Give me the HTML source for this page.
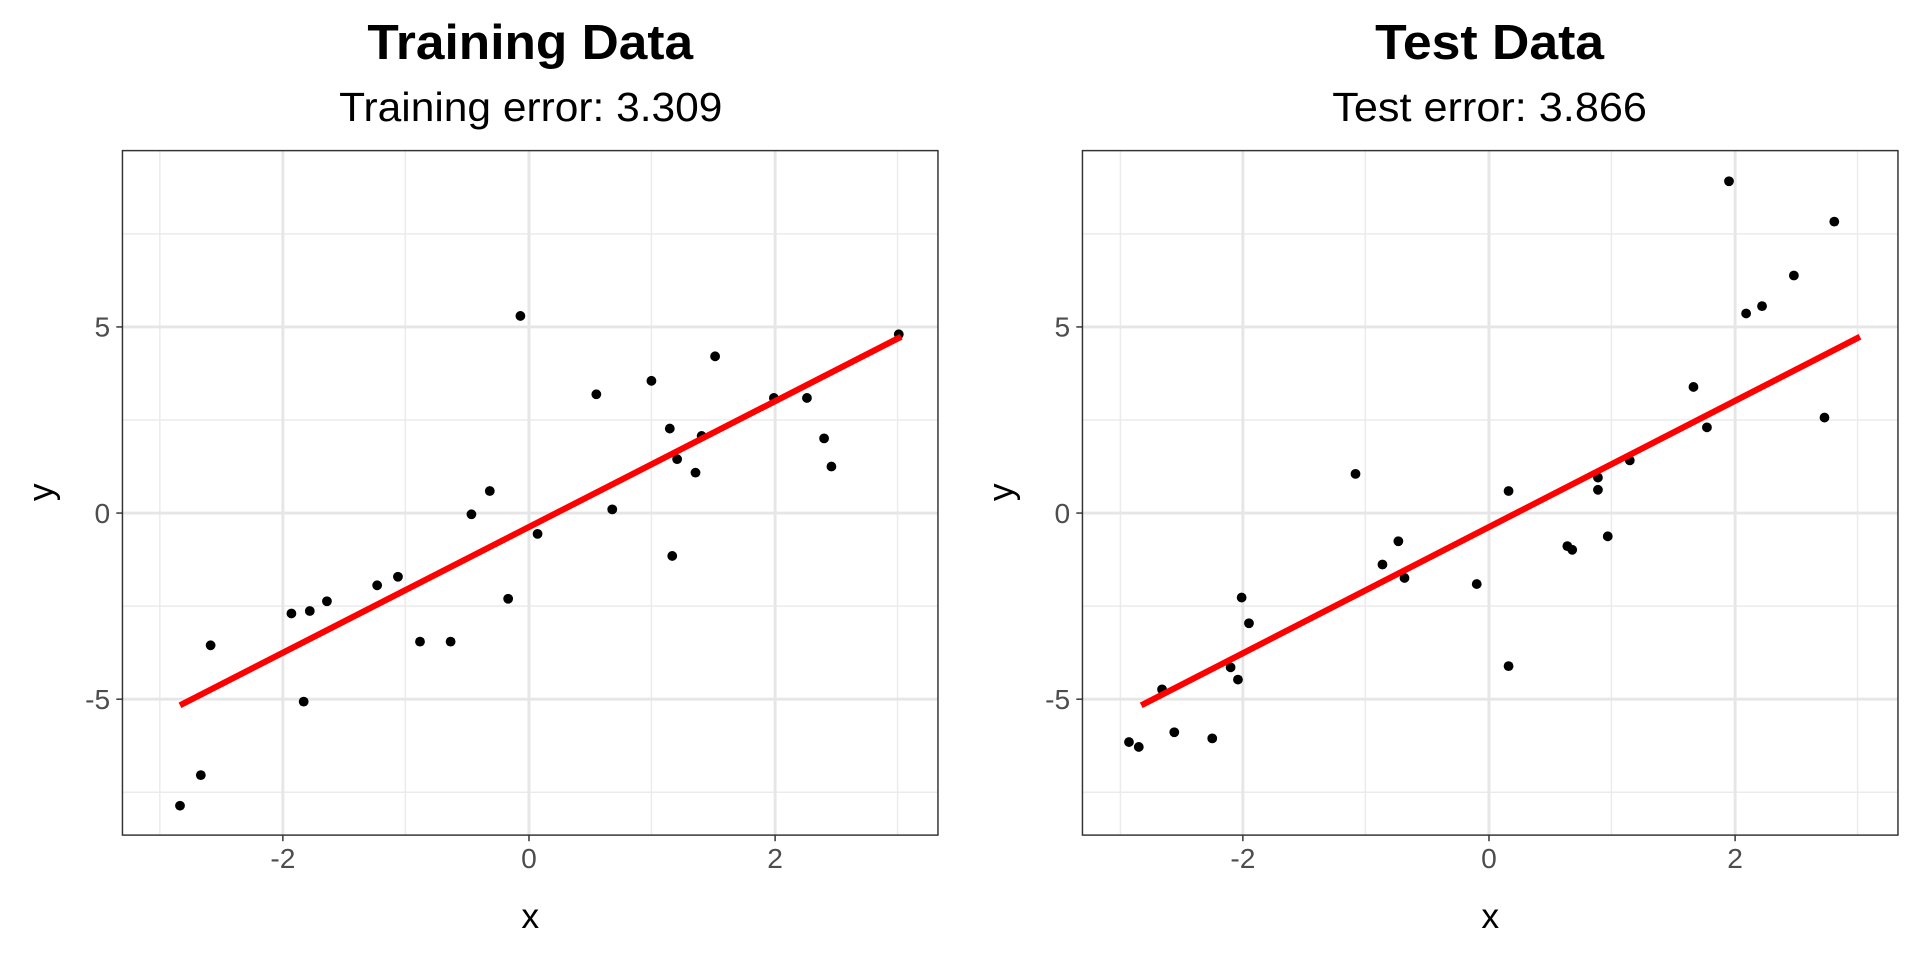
<!DOCTYPE html>
<html><head><style>html,body{margin:0;padding:0;background:#fff}svg{display:block}</style></head><body>
<svg width="1920" height="960" viewBox="0 0 1568 784" xmlns="http://www.w3.org/2000/svg" font-family="Liberation Sans, Arial, sans-serif">
<!-- Panel 1 -->
<g>
<g stroke="#ebebeb" stroke-width="1.2">
<line x1="130.5" y1="123" x2="130.5" y2="682"/><line x1="331" y1="123" x2="331" y2="682"/><line x1="532" y1="123" x2="532" y2="682"/><line x1="733" y1="123" x2="733" y2="682"/>
<line x1="100" y1="191" x2="766" y2="191"/><line x1="100" y1="343" x2="766" y2="343"/><line x1="100" y1="495" x2="766" y2="495"/><line x1="100" y1="647" x2="766" y2="647"/>
</g>
<g stroke="#e6e6e6" stroke-width="2.4">
<line x1="231" y1="123" x2="231" y2="682"/><line x1="432" y1="123" x2="432" y2="682"/><line x1="633" y1="123" x2="633" y2="682"/>
<line x1="100" y1="267" x2="766" y2="267"/><line x1="100" y1="419" x2="766" y2="419"/><line x1="100" y1="571" x2="766" y2="571"/>
</g>
<g fill="#000">
<circle cx="147" cy="658" r="4"/><circle cx="164" cy="633" r="4"/><circle cx="172" cy="527" r="4"/><circle cx="238" cy="501" r="4"/><circle cx="253" cy="499" r="4"/><circle cx="267" cy="491" r="4"/><circle cx="248" cy="573" r="4"/><circle cx="308" cy="478" r="4"/><circle cx="325" cy="471" r="4"/><circle cx="343" cy="524" r="4"/><circle cx="368" cy="524" r="4"/><circle cx="385" cy="420" r="4"/><circle cx="400" cy="401" r="4"/><circle cx="415" cy="489" r="4"/><circle cx="425" cy="258" r="4"/><circle cx="439" cy="436" r="4"/><circle cx="487" cy="322" r="4"/><circle cx="500" cy="416" r="4"/><circle cx="532" cy="311" r="4"/><circle cx="547" cy="350" r="4"/><circle cx="549" cy="454" r="4"/><circle cx="553" cy="375" r="4"/><circle cx="568" cy="386" r="4"/><circle cx="573" cy="356" r="4"/><circle cx="584" cy="291" r="4"/><circle cx="632" cy="325" r="4"/><circle cx="659" cy="325" r="4"/><circle cx="673" cy="358" r="4"/><circle cx="679" cy="381" r="4"/><circle cx="734" cy="273" r="4"/>
</g>
<line x1="147" y1="576" x2="736" y2="275" stroke="#ff0000" stroke-width="5"/>
<rect x="100" y="123" width="666" height="559" fill="none" stroke="#333" stroke-width="1.2"/>
<g stroke="#333" stroke-width="1.2"><line x1="231" y1="682" x2="231" y2="687"/><line x1="432" y1="682" x2="432" y2="687"/><line x1="633" y1="682" x2="633" y2="687"/><line x1="95" y1="267" x2="100" y2="267"/><line x1="95" y1="419" x2="100" y2="419"/><line x1="95" y1="571" x2="100" y2="571"/></g>
<g fill="#4d4d4d" font-size="23"><text x="231" y="709" text-anchor="middle">-2</text><text x="432" y="709" text-anchor="middle">0</text><text x="633" y="709" text-anchor="middle">2</text>
<text x="90" y="427" text-anchor="end">0</text><text x="90" y="275" text-anchor="end">5</text><text x="90" y="579" text-anchor="end">-5</text></g>
<text x="433" y="758" font-size="29" text-anchor="middle">x</text>
<text x="43" y="402" font-size="29" text-anchor="middle" transform="rotate(-90 43 402)">y</text>
<text x="300" y="48" font-size="40" font-weight="bold" textLength="266" lengthAdjust="spacingAndGlyphs">Training Data</text>
<text x="277" y="99" font-size="33" textLength="313" lengthAdjust="spacingAndGlyphs">Training error: 3.309</text>
</g>
<!-- Panel 2 -->
<g>
<g stroke="#ebebeb" stroke-width="1.2">
<line x1="915" y1="123" x2="915" y2="682"/><line x1="1115" y1="123" x2="1115" y2="682"/><line x1="1316" y1="123" x2="1316" y2="682"/><line x1="1517" y1="123" x2="1517" y2="682"/>
<line x1="884" y1="191" x2="1550" y2="191"/><line x1="884" y1="343" x2="1550" y2="343"/><line x1="884" y1="495" x2="1550" y2="495"/><line x1="884" y1="647" x2="1550" y2="647"/>
</g>
<g stroke="#e6e6e6" stroke-width="2.4">
<line x1="1015" y1="123" x2="1015" y2="682"/><line x1="1216" y1="123" x2="1216" y2="682"/><line x1="1417" y1="123" x2="1417" y2="682"/>
<line x1="884" y1="267" x2="1550" y2="267"/><line x1="884" y1="419" x2="1550" y2="419"/><line x1="884" y1="571" x2="1550" y2="571"/>
</g>
<g fill="#000">
<circle cx="922" cy="606" r="4"/><circle cx="930" cy="610" r="4"/><circle cx="949" cy="563" r="4"/><circle cx="959" cy="598" r="4"/><circle cx="990" cy="603" r="4"/><circle cx="1005" cy="545" r="4"/><circle cx="1011" cy="555" r="4"/><circle cx="1014" cy="488" r="4"/><circle cx="1020" cy="509" r="4"/><circle cx="1107" cy="387" r="4"/><circle cx="1129" cy="461" r="4"/><circle cx="1142" cy="442" r="4"/><circle cx="1147" cy="472" r="4"/><circle cx="1206" cy="477" r="4"/><circle cx="1232" cy="401" r="4"/><circle cx="1232" cy="544" r="4"/><circle cx="1280" cy="446" r="4"/><circle cx="1284" cy="449" r="4"/><circle cx="1305" cy="390" r="4"/><circle cx="1305" cy="400" r="4"/><circle cx="1313" cy="438" r="4"/><circle cx="1331" cy="376" r="4"/><circle cx="1383" cy="316" r="4"/><circle cx="1394" cy="349" r="4"/><circle cx="1412" cy="148" r="4"/><circle cx="1426" cy="256" r="4"/><circle cx="1439" cy="250" r="4"/><circle cx="1465" cy="225" r="4"/><circle cx="1490" cy="341" r="4"/><circle cx="1498" cy="181" r="4"/>
</g>
<line x1="932" y1="576" x2="1519" y2="275" stroke="#ff0000" stroke-width="5"/>
<rect x="884" y="123" width="666" height="559" fill="none" stroke="#333" stroke-width="1.2"/>
<g stroke="#333" stroke-width="1.2"><line x1="1015" y1="682" x2="1015" y2="687"/><line x1="1216" y1="682" x2="1216" y2="687"/><line x1="1417" y1="682" x2="1417" y2="687"/><line x1="879" y1="267" x2="884" y2="267"/><line x1="879" y1="419" x2="884" y2="419"/><line x1="879" y1="571" x2="884" y2="571"/></g>
<g fill="#4d4d4d" font-size="23"><text x="1015" y="709" text-anchor="middle">-2</text><text x="1216" y="709" text-anchor="middle">0</text><text x="1417" y="709" text-anchor="middle">2</text>
<text x="874" y="275" text-anchor="end">5</text><text x="874" y="427" text-anchor="end">0</text><text x="874" y="579" text-anchor="end">-5</text></g>
<text x="1217" y="758" font-size="29" text-anchor="middle">x</text>
<text x="827" y="402" font-size="29" text-anchor="middle" transform="rotate(-90 827 402)">y</text>
<text x="1123" y="48" font-size="40" font-weight="bold" textLength="187" lengthAdjust="spacingAndGlyphs">Test Data</text>
<text x="1088" y="99" font-size="33" textLength="257" lengthAdjust="spacingAndGlyphs">Test error: 3.866</text>
</g>
</svg>
</body></html>
